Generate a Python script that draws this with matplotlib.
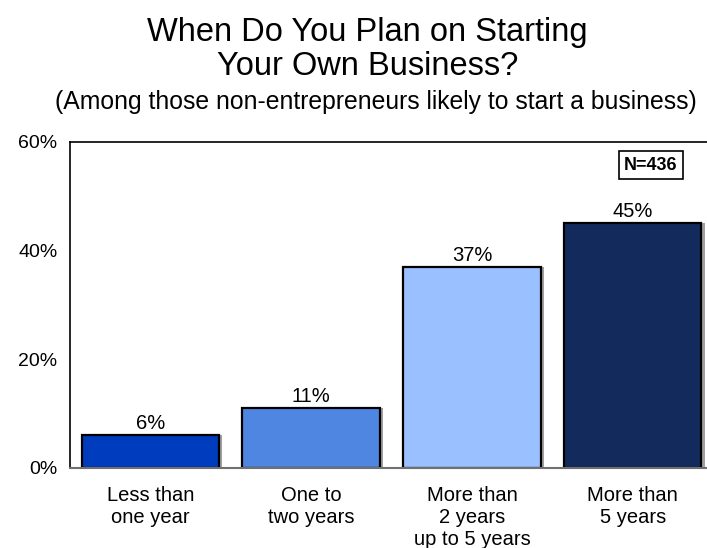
import matplotlib.pyplot as plt
import numpy as np

plt.rcParams['font.family'] = ['Liberation Sans', 'DejaVu Sans']

# survey answers: when respondents plan to start a business
categories = ['Less than\none year', 'One to\ntwo years',
              'More than\n2 years\nup to 5 years', 'More than\n5 years']
shares = [6, 11, 37, 45]
colors = ['#003CBE', '#4F86E2', '#9AC0FF', '#132A5C']
yticks = [0, 20, 40, 60]

fig = plt.figure(figsize=(7.07, 5.48), dpi=100)
ax = fig.add_axes([0.099, 0.146, 0.905, 0.595])

x = np.arange(len(categories))
# soft grey shadow behind each bar
ax.bar(x + 0.02, shares, width=0.855, color='#A0A0A0', zorder=1)
ax.bar(x, shares, width=0.855, color=colors, edgecolor='black',
       linewidth=1.6, zorder=2)

for xi, v in zip(x, shares):
    ax.text(xi, v + 0.4, f'{v}%', ha='center', va='bottom', fontsize=14.5)

ax.set_xlim(-0.5, 3.48)
ax.set_ylim(0, 60)
ax.set_yticks(yticks)
ax.set_yticklabels([f'{t}%' for t in yticks], fontsize=14)
ax.set_xticks(x)
ax.set_xticklabels(categories, fontsize=14.5, linespacing=1.2)
ax.tick_params(axis='y', length=0, pad=9)
ax.tick_params(axis='x', length=0, pad=13)

ax.spines['right'].set_visible(False)
for s in ['left', 'top']:
    ax.spines[s].set_linewidth(1.2)
ax.spines['bottom'].set_color('#707070')
ax.spines['bottom'].set_linewidth(1.5)

ax.text(0.908, 0.929, 'N=436', transform=ax.transAxes, ha='center',
        va='center', fontsize=13, fontweight='bold',
        bbox=dict(boxstyle='square,pad=0.3', fc='white', ec='black', lw=1.2))

fig.text(0.52, 0.91, 'When Do You Plan on Starting\nYour Own Business?',
         ha='center', va='center', fontsize=23.5, linespacing=1.12)
fig.text(0.532, 0.813, '(Among those non-entrepreneurs likely to start a business)',
         ha='center', va='center', fontsize=17.8)

fig.savefig('out.png', dpi=100)
